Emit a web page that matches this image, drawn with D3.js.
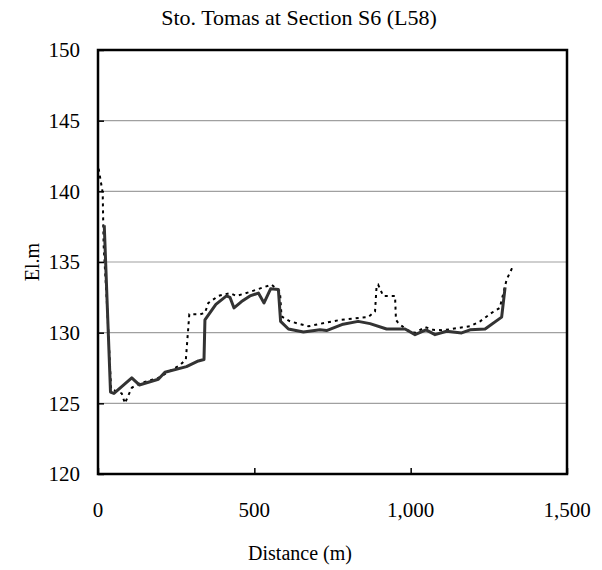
<!DOCTYPE html>
<html><head><meta charset="utf-8">
<script src="https://cdn.jsdelivr.net/npm/d3@7"></script>
<style>body{margin:0;background:#fff}svg{display:block}text{font-family:"Liberation Serif","Times New Roman",serif;fill:#000}</style>
</head><body><div id="chart"></div>
<script>
const title = "Sto. Tomas at Section S6 (L58)";
const xLabel = "Distance (m)";
const yLabel = "El.m";
const xTicks = [0, 500, 1000, 1500];
const yTicks = [120, 125, 130, 135, 140, 145, 150];

// solid line (existing profile)
const solidX = [20, 40, 51, 108, 132, 193, 214, 283, 321, 339, 342, 377, 411, 422, 435, 459, 486, 513, 531, 552, 577, 584, 609, 657, 710, 731, 784, 832, 870, 923, 982, 1014, 1049, 1078, 1115, 1163, 1190, 1238, 1291, 1302];
const solidY = [137.6, 125.8, 125.7, 126.8, 126.3, 126.7, 127.2, 127.6, 128.0, 128.1, 130.9, 132.0, 132.6, 132.5, 131.75, 132.2, 132.6, 132.8, 132.1, 133.1, 133.05, 130.8, 130.26, 130.05, 130.2, 130.15, 130.6, 130.8, 130.64, 130.26, 130.26, 129.86, 130.2, 129.86, 130.1, 129.98, 130.2, 130.26, 131.1, 133.2];

// dotted line (second survey)
const dotX = [2, 15, 18, 30, 42, 76, 86, 108, 132, 193, 262, 281, 292, 326, 342, 353, 385, 422, 443, 481, 555, 582, 587, 614, 673, 726, 774, 838, 864, 886, 891, 896, 912, 950, 953, 960, 987, 1014, 1046, 1072, 1104, 1152, 1190, 1222, 1259, 1285, 1307, 1323, 1335];
const dotY = [141.6, 139.9, 136.2, 131.5, 126.0, 125.7, 125.0, 126.1, 126.4, 126.8, 127.7, 128.1, 131.3, 131.3, 131.4, 132.1, 132.6, 132.8, 132.6, 132.85, 133.4, 132.9, 131.15, 130.8, 130.45, 130.7, 130.9, 131.05, 131.1, 131.5, 133.3, 133.4, 132.6, 132.6, 130.9, 130.7, 130.2, 129.98, 130.4, 130.2, 130.17, 130.33, 130.45, 130.8, 131.4, 131.75, 133.76, 134.5, 134.5];

const W = 602, H = 570;
const m = {left: 98, right: 35, top: 50, bottom: 96};
const svg = d3.select("#chart").append("svg").attr("width", W).attr("height", H);
const x = d3.scaleLinear().domain([0, 1500]).range([m.left, W - m.right]);
const y = d3.scaleLinear().domain([120, 150]).range([H - m.bottom, m.top]);

// gridlines
svg.append("g").selectAll("line").data(yTicks.filter(v => v > 120 && v < 150)).join("line")
  .attr("x1", x(0)).attr("x2", x(1500)).attr("y1", d => y(d)).attr("y2", d => y(d))
  .attr("stroke", "#a0a0a0").attr("stroke-width", 1.2);

// axes with inner ticks
const yAxis = svg.append("g").attr("transform", `translate(${x(0)},0)`)
  .call(d3.axisRight(y).tickValues(yTicks).tickSize(6).tickFormat(""));
yAxis.select(".domain").remove();
yAxis.selectAll("line").attr("stroke", "#000").attr("stroke-width", 1.5);
const xAxis = svg.append("g").attr("transform", `translate(0,${y(120)})`)
  .call(d3.axisTop(x).tickValues(xTicks).tickSize(6).tickFormat(""));
xAxis.select(".domain").remove();
xAxis.selectAll("line").attr("stroke", "#000").attr("stroke-width", 1.5);

// tick labels
svg.append("g").selectAll("text").data(yTicks).join("text")
  .attr("x", x(0) - 18).attr("y", d => y(d)).attr("dy", "0.35em")
  .attr("text-anchor", "end").attr("font-size", 21).text(d => d);
svg.append("g").selectAll("text").data(xTicks).join("text")
  .attr("x", d => x(d)).attr("y", y(120) + 43)
  .attr("text-anchor", "middle").attr("font-size", 21).text(d => d3.format(",")(d));

// lines
const line = d3.line().x(d => x(d[0])).y(d => y(d[1]));
svg.append("path").datum(dotX.map((v, i) => [v, dotY[i]]))
  .attr("d", line).attr("fill", "none").attr("stroke", "#000")
  .attr("stroke-width", 2).attr("stroke-dasharray", "3,4");
svg.append("path").datum(solidX.map((v, i) => [v, solidY[i]]))
  .attr("d", line).attr("fill", "none").attr("stroke", "#333")
  .attr("stroke-width", 3).attr("stroke-linejoin", "round");

// frame
svg.append("rect").attr("x", x(0)).attr("y", y(150))
  .attr("width", x(1500) - x(0)).attr("height", y(120) - y(150))
  .attr("fill", "none").attr("stroke", "#000").attr("stroke-width", 2.5);

// titles
svg.append("text").attr("x", 299).attr("y", 25).attr("text-anchor", "middle")
  .attr("font-size", 22).text(title);
svg.append("text").attr("x", 300).attr("y", 560).attr("text-anchor", "middle")
  .attr("font-size", 20).text(xLabel);
svg.append("text").attr("transform", `translate(39,${(y(120) + y(150)) / 2}) rotate(-90)`)
  .attr("text-anchor", "middle").attr("font-size", 20).text(yLabel);
</script></body></html>
